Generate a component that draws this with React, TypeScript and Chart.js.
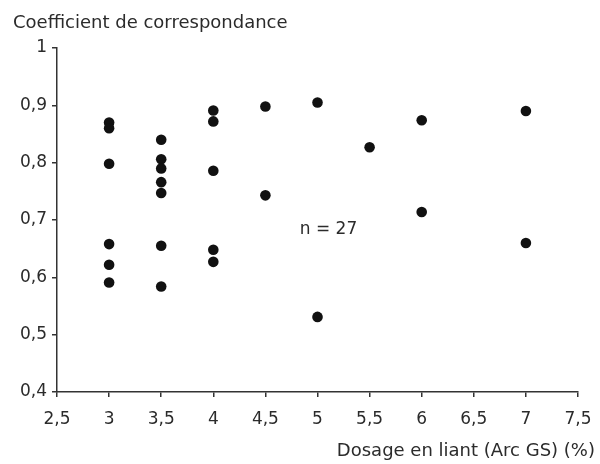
import React, { useEffect, useRef } from "react";
import { Chart, registerables } from "chart.js";

Chart.register(...registerables);

const dosage: number[] = [
  3, 3, 3, 3, 3, 3,
  3.5, 3.5, 3.5, 3.5, 3.5, 3.5, 3.5,
  4, 4, 4, 4, 4,
  4.5, 4.5,
  5, 5,
  5.5,
  6, 6,
  7, 7,
];
const coefficient: number[] = [
  0.87, 0.86, 0.798, 0.658, 0.622, 0.591,
  0.84, 0.806, 0.79, 0.766, 0.747, 0.655, 0.584,
  0.891, 0.872, 0.786, 0.648, 0.627,
  0.898, 0.743,
  0.905, 0.531,
  0.827,
  0.874, 0.714,
  0.89, 0.66,
];
const yTitle = "Coefficient de correspondance";
const xTitle = "Dosage en liant (Arc GS) (%)";
const note = "n = 27";
const noteAt = { x: 4.83, y: 0.684 };

const FONT = "'DejaVu Sans', sans-serif";
const INK = "#2b2b2b";

const fmt = (v: number | string) =>
  String(Math.round(Number(v) * 10) / 10).replace(".", ",");

export default function App() {
  const ref = useRef<HTMLCanvasElement | null>(null);

  useEffect(() => {
    if (!ref.current) return;
    const textPlugin = {
      id: "texts",
      afterDraw(chart: any) {
        const ctx = chart.ctx;
        ctx.save();
        ctx.fillStyle = INK;
        ctx.font = `18px ${FONT}`;
        ctx.textBaseline = "alphabetic";
        ctx.textAlign = "left";
        ctx.fillText(yTitle, 13, 28);
        ctx.textAlign = "right";
        ctx.fillText(xTitle, 595, 456);
        ctx.textAlign = "left";
        ctx.font = `17px ${FONT}`;
        const px = chart.scales.x.getPixelForValue(noteAt.x);
        const py = chart.scales.y.getPixelForValue(noteAt.y);
        ctx.textBaseline = "middle";
        ctx.fillText(note, px, py);
        ctx.restore();
      },
    };

    const chart = new Chart(ref.current, {
      type: "scatter",
      data: {
        datasets: [
          {
            data: dosage.map((x, i) => ({ x, y: coefficient[i] })),
            backgroundColor: "#111",
            borderColor: "#111",
            pointRadius: 5.3,
            pointHoverRadius: 5.3,
            borderWidth: 0,
          },
        ],
      },
      options: {
        responsive: false,
        animation: false,
        layout: { padding: { top: 48, right: 22, left: 0, bottom: 0 } },
        plugins: {
          legend: { display: false },
          tooltip: { enabled: false },
          title: { display: false },
        },
        scales: {
          x: {
            type: "linear",
            min: 2.5,
            max: 7.5,
            afterFit: (s: any) => {
              s.height = 72;
              s.paddingLeft = 0;
              s.paddingRight = 0;
            },
            ticks: {
              stepSize: 0.5,
              color: INK,
              font: { family: FONT, size: 17 },
              padding: 12,
              maxRotation: 0,
              autoSkip: false,
              callback: (v: any) => fmt(v),
            },
            grid: {
              drawOnChartArea: false,
              drawTicks: true,
              tickLength: 5,
              color: "#333",
              lineWidth: 1.5,
            },
            border: { display: true, color: "#333", width: 1.5 },
          },
          y: {
            type: "linear",
            min: 0.4,
            max: 1,
            afterFit: (s: any) => {
              s.width = 57;
              s.paddingTop = 0;
              s.paddingBottom = 0;
            },
            ticks: {
              stepSize: 0.1,
              color: INK,
              font: { family: FONT, size: 17 },
              padding: 5,
              autoSkip: false,
              callback: (v: any) => fmt(v),
            },
            grid: {
              drawOnChartArea: false,
              drawTicks: true,
              tickLength: 5,
              color: "#333",
              lineWidth: 1.5,
            },
            border: { display: true, color: "#333", width: 1.5 },
          },
        },
      },
      plugins: [textPlugin],
    } as any);
    return () => chart.destroy();
  }, []);

  return (
    <div style={{ position: "absolute", left: 0, top: 0, width: 600, height: 464, background: "#fff" }}>
      <canvas ref={ref} width={600} height={464} />
    </div>
  );
}
